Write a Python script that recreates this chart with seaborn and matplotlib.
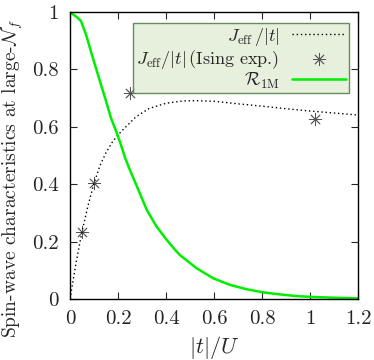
import numpy as np
import pandas as pd
import matplotlib
matplotlib.use('Agg')
import matplotlib.pyplot as plt
import seaborn as sns

# R_1M curve
t_r = [0, 0.004, 0.032, 0.046, 0.067, 0.087, 0.108, 0.129, 0.15, 0.171, 0.192,
       0.212, 0.23, 0.25, 0.285, 0.32, 0.361, 0.403, 0.438, 0.458, 0.528, 0.597,
       0.667, 0.736, 0.806, 0.875, 0.944, 1.014, 1.083, 1.2]
r_1m = [1, 0.997, 0.98, 0.968, 0.921, 0.863, 0.805, 0.747, 0.69, 0.63, 0.585,
        0.538, 0.491, 0.449, 0.38, 0.31, 0.252, 0.206, 0.171, 0.153, 0.107, 0.072,
        0.049, 0.034, 0.023, 0.016, 0.010, 0.007, 0.005, 0.002]

# J_eff/|t| curve
t_j = [0, 0.025, 0.05, 0.075, 0.1, 0.125, 0.15, 0.175, 0.2, 0.233, 0.275, 0.33,
       0.4, 0.469, 0.525, 0.6, 0.7, 0.8, 0.9, 1.0, 1.1, 1.2]
j_eff = [0, 0.125, 0.235, 0.325, 0.403, 0.465, 0.51, 0.545, 0.572, 0.60, 0.635,
         0.664, 0.682, 0.69, 0.691, 0.689, 0.680, 0.672, 0.663, 0.655, 0.648, 0.641]

# Ising expansion points
t_ising = [0.05, 0.1, 0.25, 1.02]
j_ising = [0.235, 0.403, 0.717, 0.627]

sns.set_style('ticks')
plt.rcParams['font.family'] = ['cmr10', 'DejaVu Serif']
plt.rcParams['mathtext.fontset'] = 'cm'
plt.rcParams['axes.formatter.use_mathtext'] = True

fig = plt.figure(figsize=(3.74, 3.6), dpi=100)
ax = fig.add_axes([70 / 374, 61 / 360, 288 / 374, 287 / 360])

df_j = pd.DataFrame({'t': t_j, 'v': j_eff})
df_r = pd.DataFrame({'t': t_r, 'v': r_1m})
df_i = pd.DataFrame({'t': t_ising, 'v': j_ising})

sns.lineplot(data=df_j, x='t', y='v', ax=ax, color='black', linewidth=1.0,
             linestyle=(0, (1, 2)), estimator=None, sort=False,
             label=r'$J_{\rm eff}\,/|t|$')
sns.scatterplot(data=df_i, x='t', y='v', ax=ax, marker=(8, 2, 0), s=80,
                color='#555555', linewidth=0.6,
                label=r'$J_{\rm eff}/|t|\,$(Ising exp.)')
sns.lineplot(data=df_r, x='t', y='v', ax=ax, color='#00ee00', linewidth=1.8,
             estimator=None, sort=False, label=r'$\mathcal{R}_{1\rm M}$')

ax.set_xlim(0, 1.2)
ax.set_ylim(0, 1)
ax.set_xticks([0, 0.2, 0.4, 0.6, 0.8, 1.0, 1.2])
ax.set_xticklabels(['0', '0.2', '0.4', '0.6', '0.8', '1', '1.2'])
ax.set_yticks([0, 0.2, 0.4, 0.6, 0.8, 1.0])
ax.set_yticklabels(['0', '0.2', '0.4', '0.6', '0.8', '1'])
ax.tick_params(direction='in', top=True, right=True, length=5, width=0.8,
               labelsize=15, pad=8)
for s in ax.spines.values():
    s.set_linewidth(1.0)
    s.set_color('black')

ax.set_xlabel(r'$|t|/U$', fontsize=16, labelpad=4)
ax.set_ylabel(r'Spin-wave characteristics at large-$\mathcal{N}_f$', fontsize=14)
ax.yaxis.set_label_coords(-0.155, 0.42)

leg = ax.legend(loc='upper right', markerfirst=False, fontsize=13,
                frameon=True, fancybox=False, framealpha=0.85,
                bbox_to_anchor=(0.968, 0.962), borderaxespad=0,
                handlelength=3.0, labelspacing=0.0,
                borderpad=0.15, handletextpad=0.7)
leg.get_frame().set_facecolor('#e2eed8')
leg.get_frame().set_edgecolor('#4f7a45')
leg.get_frame().set_linewidth(1.0)
for txt in leg.get_texts():
    txt.set_ha('right')
leg._legend_box.align = 'right'

fig.savefig('out.png', dpi=100)
